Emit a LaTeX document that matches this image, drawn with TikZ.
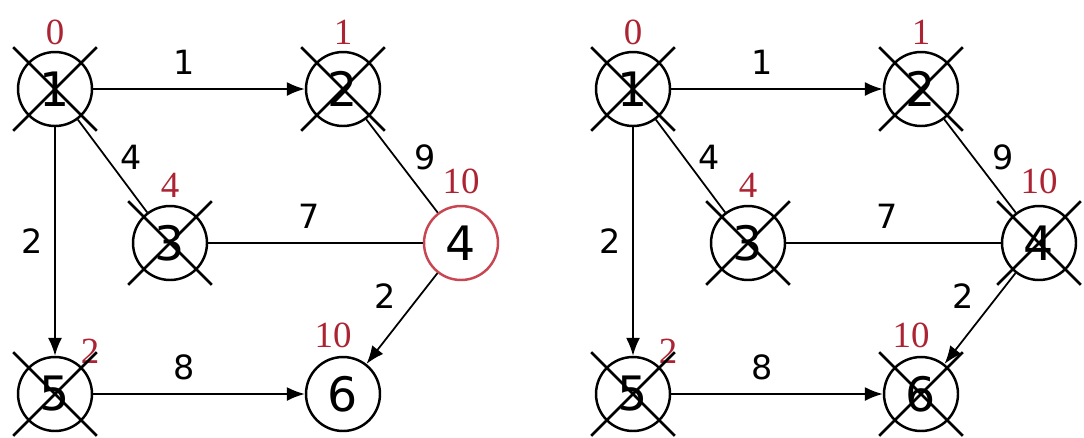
\documentclass[tikz,border=0pt]{standalone}
\usepackage{fontspec}
\setmainfont{DejaVu Sans}
\newfontfamily\distfont{Liberation Serif}
\usetikzlibrary{arrows.meta,positioning,calc,shapes.misc}
\definecolor{distred}{RGB}{172,36,52}
\definecolor{hotred}{RGB}{200,70,82}
\tikzset{
  vert/.style={draw, circle, line width=1.4pt, minimum size=1.48cm, inner sep=0pt,
               font=\fontsize{27}{27}\selectfont},
  xmark/.style={cross out, draw, line width=1.5pt, minimum size=1.62cm, inner sep=0pt},
  wt/.style={font=\fontsize{19}{19}\selectfont, inner sep=2pt},
  dist/.style={font=\distfont\fontsize{21}{21}\selectfont, text=distred, inner sep=1pt},
  edge/.style={-{Latex[length=3.6mm,width=2.8mm]}, line width=1pt},
  link/.style={line width=1pt},
}
\begin{document}
\begin{tikzpicture}[x=0.02cm, y=-0.02cm]
  \useasboundingbox (0,0) rectangle (1084,437);
  \foreach \p/\dx/\ring in {l/0/hotred, r/578/black} {
    \node[vert] (\p1) at (55+\dx,89) {1};
    \node[vert] (\p2) at (343+\dx,89) {2};
    \node[vert] (\p3) at (170+\dx,243) {3};
    \node[vert, draw=\ring] (\p4) at (461+\dx,243) {4};
    \node[vert] (\p5) at (55+\dx,394) {5};
    \node[vert] (\p6) at (343+\dx,394) {6};
    \draw[edge] (\p1) -- node[wt, pos=0.43, above=2mm] {1} (\p2);
    \draw[link] (\p1) -- node[wt, pos=0.41, right=2mm] {4} (\p3);
    \draw[edge] (\p1) -- node[wt, left=1.5mm] {2} (\p5);
    \draw[link] (\p2) -- node[wt, pos=0.41, right=3mm] {9} (\p4);
    \draw[link] (\p3) -- node[wt, pos=0.47, above=2mm] {7} (\p4);
    \draw[edge] (\p4) -- node[wt, pos=0.25, left=4mm] {2} (\p6);
    \draw[edge] (\p5) -- node[wt, pos=0.43, above=2mm] {8} (\p6);
    % tentative distances
    \node[dist] (\p d1) at ($(\p1)+(0,-57)$) {0};
    \node[dist] (\p d2) at ($(\p2)+(0,-57)$) {1};
    \node[dist] (\p d3) at ($(\p3)+(0,-58)$) {4};
    \node[dist] (\p d4) at ($(\p4)+(0,-62)$) {10};
    \node[dist] (\p d5) at ($(\p5)+(35,-43)$) {2};
    \node[dist] (\p d6) at ($(\p6)+(-10,-59)$) {10};
  }
  % visited vertices
  \foreach \n in {l1,l2,l3,l5,r1,r2,r3,r4,r5,r6}
    \node[xmark] (x\n) at (\n) {};
\end{tikzpicture}
\end{document}
